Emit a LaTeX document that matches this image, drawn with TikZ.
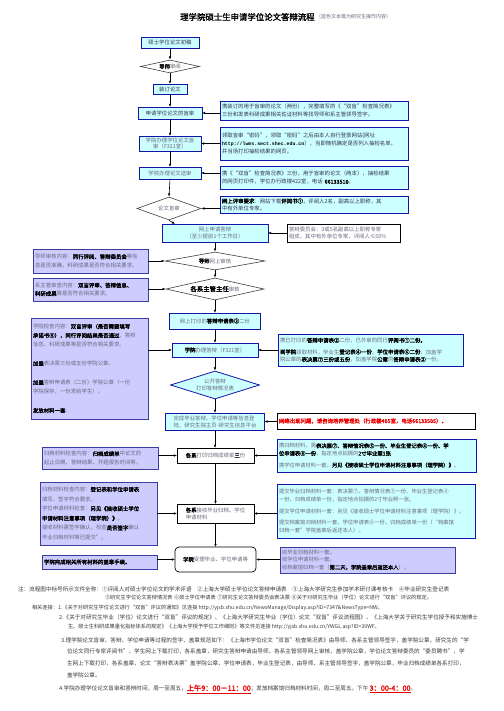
\documentclass[tikz,border=0pt]{standalone}
\usepackage{fontspec}
\setmainfont{Noto Sans CJK SC}[AutoFakeBold=2]
\newfontfamily\urlf{Liberation Mono}
\usetikzlibrary{arrows.meta,shapes.geometric,calc}
\XeTeXlinebreaklocale "zh"
\XeTeXlinebreakskip=0pt plus 1.5pt
\definecolor{cyf}{RGB}{204,255,255}
\definecolor{bln}{RGB}{20,20,170}
\definecolor{lvf}{RGB}{204,204,255}
\definecolor{lvl}{RGB}{60,60,160}
\definecolor{gt}{RGB}{105,105,125}
\definecolor{dt}{RGB}{50,50,80}
\definecolor{rd}{RGB}{235,0,0}
\newcommand\hb[1]{{\bfseries\color{black}#1}}
\newcommand\tsz{\fontsize{5.4}{8.4}\selectfont}
\newcommand\nsz{\fontsize{5.6}{7}\selectfont}
\newcommand\ssz{\fontsize{5.2}{7}\selectfont}
\newcommand\cbx[7]{%
 \pgfmathsetmacro\tmpy{(#3+#5)/2}\pgfmathsetmacro\tmph{#5-#3}%
 \node[#6, minimum width=#4pt, minimum height=\tmph pt] (#1) at (#2,\tmpy) {#7};}
\newcommand\rbx[7]{%
 \pgfmathsetmacro\tmpw{#4-#2-4}\pgfmathsetmacro\tmph{#5-#3}%
 \node[#6, anchor=north west, minimum height=\tmph pt, text width=\tmpw pt] (#1) at (#2,#3) {#7};}
\tikzset{
 x=1pt,y=-1pt,
 base/.style={inner xsep=2pt, inner ysep=1pt, outer sep=0pt, font=\tsz, align=left},
 cy/.style={base, draw=bln, fill=cyf, line width=0.8pt, text=gt},
 cyd/.style={cy, text=dt},
 mb/.style={cy, align=center, text=dt},
 lv/.style={base, draw=lvl, fill=lvf, line width=0.8pt, text=gt},
 wb/.style={base, draw=black, fill=white, line width=0.7pt, text=gt},
 dm/.style={diamond, draw=black!75, fill=white, line width=0.6pt, inner sep=0pt, font=\tsz, text=gt, align=center},
 arr/.style={-{Latex[length=3.2pt,width=2.6pt]}, line width=0.6pt, black},
 note/.style={inner sep=0pt, outer sep=0pt, anchor=west, font=\nsz, text=black!78}
}
\begin{document}
\begin{tikzpicture}
\useasboundingbox (0,0) rectangle (503,711);
\fill[white] (0,0) rectangle (503,711);

% title
\node[inner sep=0pt, anchor=west, font=\fontsize{8.4}{9}\selectfont\bfseries] (title) at (180,17) {理学院硕士生申请学位论文答辩流程};
\node[inner sep=0pt, anchor=west, font=\fontsize{5}{6}\selectfont, text=gt] (subtitle) at ([xshift=1pt]title.east) {（蓝色文本框为研究生操作内容）};

% upper column
\cbx{cg}{170}{37}{58}{48}{mb}{硕士学位论文初稿}
\node[dm, aspect=4.5, minimum width=59pt, minimum height=13pt] (dsy) at (170,66.5) {\hb{导师}审阅};
\cbx{zd}{170}{84}{34}{94}{mb}{装订论文}
\cbx{ms}{170}{107}{64}{119}{mb}{申请学位论文的盲审}
\cbx{xyb}{170}{136}{62}{151}{mb, text=gt, font=\fontsize{5.4}{6.6}\selectfont}{学院办理学位论文盲\\审（F321室）}
\cbx{xxb}{170}{167}{62}{179}{mb, text=gt}{学校办理论文送审}
\node[dm, aspect=2.6, minimum width=64pt, minimum height=23pt] (lwms) at (169,208.5) {论文盲审};

% right upper boxes
\rbx{r1}{220}{101}{408}{120}{cyd}{携装订的用于盲审的论文（两份），完整填写的《“双盲”检查简况表》\\三份和发表科研成果相关佐证材料等找导师和系主管领导签字。}
\rbx{r2}{220}{127}{408}{160}{cyd}{领取盲审“密码”，领取“密码”之后由本人自行登录网站(网址\\{\urlf\bfseries\color{black}\fontsize{4.9}{8}\selectfont http://lwms.sect.shec.edu.cn}），当即随机确定是否列入抽检名单，\\并当场打印抽检结果的网页。}
\rbx{r3}{220}{166}{408}{189}{cyd}{携《“双盲”检查简况表》三份，用于盲审的论文（两本），抽检结果\\的网页打印件，学位办行政楼422室，电话 \hb{66133510}。}
\rbx{r4}{220}{196}{408}{213}{cyd, font=\fontsize{5.4}{7}\selectfont}{\hb{网上评审要求}：网站下载\hb{评阅书①}，评阅人2名，副高以上职称，其\\中有外单位专家。}
\rbx{r5}{287}{224}{400}{242}{wb, font=\fontsize{5.4}{7.5}\selectfont}{答辩委员会：3或5名副高以上职称专家\\组成，其中有外单位专家，评阅人≤50\%}

% lower column
\cbx{ws}{215}{224}{106}{242}{mb, text=gt, font=\fontsize{5.4}{7.5}\selectfont}{网上申请答辩\\（至少提前1个工作日）}
\node[dm, aspect=5.5, minimum width=100pt, minimum height=18pt] (dsh) at (215,261) {\hb{导师}网上审核};
\node[dm, aspect=4.4, minimum width=98pt, minimum height=22pt] (xzg) at (215,289) {{\bfseries\color{black}\fontsize{6.4}{7}\selectfont 各系主管主任}审核};
\cbx{wd}{215}{313}{91}{329}{cy, align=center}{网上打印的\hb{答辩申请表②}二份}
\cbx{xdb}{215}{343}{86}{357}{cy, align=center}{\hb{学院}办理答辩（F321室）}
\node[dm, draw=bln, fill=cyf, line width=0.8pt, aspect=3.2, minimum width=89pt, minimum height=28pt, font=\fontsize{5.4}{7.5}\selectfont] (gk) at (215,385) {公开答辩\\打印答辩情况表};
\cbx{wc}{215}{413}{99}{430}{cy, font=\fontsize{5.4}{7}\selectfont}{完成毕业答辩、学位申请等信息登\\陆，研究生院主页-研究生信息平台}
\cbx{xd}{215.5}{448}{77}{463}{wb, align=center}{\hb{各系}打印归档成绩单\hb{三}份}
\cbx{xj}{215.5}{504}{77}{523}{wb, font=\fontsize{5.4}{7}\selectfont}{\hb{各系}接收毕业归档、学位\\申请材料}
\cbx{xs}{215.5}{547}{81}{572}{wb, rounded corners=4pt, align=center}{\hb{学院}受理毕业、学位申请等}

% left boxes
\rbx{l1}{33}{249}{148}{273}{lv}{导师审核内容：\hb{同行评阅、答辩委员会}等信\\息是否准确，科研成果是否符合相关要求。}
\rbx{l2}{33}{278}{148}{301}{lv}{系主管审查内容：\hb{双盲评审、答辩信息、}\\\hb{科研成果}等是否符合相关要求。}
\rbx{l3}{31}{318}{148}{419}{lv, font=\fontsize{5.4}{9}\selectfont}{学院检查内容：\hb{双盲评审（是否需要填写}\\\hb{承诺书④），同行评阅结果是否通过}、答辩\\信息、科研成果等是否符合相关要求。\\[10pt]\hb{加盖}表决票三份或五份学院公章。\\[10pt]\hb{加盖}答辩申请表（二份）学院公章（一份\\学院保存，一份发给学生）。\\[10pt]\hb{发放材料一套}。}
\rbx{l4}{42}{447}{158}{469}{lv}{归档材料检查内容：\hb{归档成绩单}中论文的\\起止日期、答辩结果、开题报告时间等。}
\rbx{l5}{40}{482}{157}{545}{lv, font=\fontsize{5.4}{9.6}\selectfont}{归档材料检查内容：\hb{登记表和学位申请表}\\填写、签字符合要求。\\学位申请材料检查：\hb{另见《接收硕士学位}\\\hb{申请材料注意事项（理学院）》}。\\接收材料需签字确认，检查\hb{是否签字}确认\\毕业归档材料等已提交”。}
\rbx{l6}{42}{555}{157}{569}{lv}{\hb{学院完成相关所有材料的盖章手续。}}

% right lower boxes
\rbx{r6}{278}{334}{463}{366}{cy, font=\fontsize{5.4}{7.6}\selectfont}{携已打印的\hb{答辩申请表②}二份，已外审的同行\hb{评阅书①二份。}\\[4pt]\hb{到学院}领取材料，毕业生\hb{登记表④一份}、\hb{学位申请表⑥二份}，加盖学\\院公章的\hb{表决票⑦三份或五份}，加盖学院\hb{公章}的\hb{答辩申请表②}一份。}
\rbx{r7}{277}{413}{475}{429}{wb, line width=1pt, text=rd}{\bfseries 网络出现问题，请咨询培养管理处（行政楼405室，电话66133505）。}
\rbx{r8}{277}{439}{476}{472}{cy, font=\fontsize{5.3}{7.6}\selectfont}{携归档材料，需\hb{表决票⑦、答辩情况表⑤一份、毕业生登记表④一份、学}\\\hb{位申请表⑥一份}，指定地点拍摄的\hb{2寸毕业照1张}\\[4pt]携学位申请材料一套，\hb{另见《接收硕士学位申请材料注意事项（理学院）》}。}
\rbx{r9}{277}{484}{475}{538}{cy, font=\fontsize{5.3}{7.6}\selectfont}{提交毕业归档材料一套：表决票⑦、答辩情况表⑤一份、毕业生登记表④\\一份、归档成绩单一份、指定地点拍摄的2寸毕业照一张。\\[4pt]提交学位申请材料一套：另见《接收硕士学位申请材料注意事项（理学院）》。\\[4pt]提交档案馆归档材料一套，学位申请表⑥一份、归档成绩单一份（“档案馆\\归档一套”学院盖章后返还本人）。}
\rbx{r10}{280}{547}{455}{573}{lv, font=\fontsize{5.3}{7.4}\selectfont}{收毕业归档材料一套。\\收学位申请材料一套。\\收档案馆归档一套（\hb{第二天，学院盖章后返还本人}）。}

% vertical flow
\draw[arr] (cg) -- (dsy);
\draw[arr] (dsy) -- (zd);
\draw[arr] (zd) -- (ms);
\draw[arr] (ms) -- (xyb);
\draw[arr] (xyb) -- (xxb);
\draw[arr] (xxb.south) -- (lwms.north);
\draw[arr] (lwms.south) -- ([xshift=13pt]ws.north west);
\draw[arr] (ws) -- (dsh);
\draw[arr] (dsh) -- (xzg);
\draw[arr] (xzg) -- (wd);
\draw[arr] (wd) -- (xdb);
\draw[arr] (xdb) -- (gk);
\draw[arr] (gk) -- (wc);
\draw[arr] (wc.south) -- (xd.north -| wc.south);
\draw[arr] (xd.south) -- (xj.north -| xd.south);
\draw[arr] (xj.south) -- (xs.north -| xj.south);

% right-to-left arrows
\draw[arr] (r1.west |- ms.east) -- (ms.east);
\draw[arr] (r2.west |- xyb.east) -- (xyb.east);
\draw[arr] (r3.west |- xxb.east) -- (xxb.east);
\draw[arr] (r4.west |- lwms.east) -- (lwms.east);
\draw[arr] (r5.west |- ws.east) -- (ws.east);
\draw[arr] (r6.west |- xdb.east) -- (xdb.east);
\draw[arr] (r7.west |- wc.east) -- (wc.east);
\draw[arr] (r8.west |- xd.east) -- (xd.east);
\draw[arr] (r9.west |- xj.east) -- (xj.east);
\draw[arr] (r10.west |- xs.east) -- (xs.east);

% left-to-right arrows
\draw[arr] (l1.east |- dsh.west) -- (dsh.west);
\draw[arr] (l2.east |- xzg.west) -- (xzg.west);
\draw[arr] (l3.east |- xdb.west) -- (xdb.west);
\draw[arr] (l4.east |- xd.west) -- (xd.west);
\draw[arr] (l5.east |- xj.west) -- (xj.west);
\draw[arr] (l6.east |- xs.west) -- (xs.west);

% notes
\node[note] (n1) at (18,589) {\makebox[470pt][s]{注：流程图中标号所示文件全称：①评阅人对硕士学位论文的学术评语\quad ②上海大学硕士学位论文答辩申请表\quad ③上海大学研究生参加学术研讨课考核卡\quad ④毕业研究生登记表}};
\node[note, font=\ssz] (n2) at (105,598) {\makebox[327pt][s]{⑤研究生学位论文答辩情况表 ⑥硕士学位申请表 ⑦研究生论文答辩委员会表决票 ⑧关于对研究生毕业（学位）论文进行“双盲”评议的规定。}};
\node[note, font=\ssz] (n3) at (32,608) {相关连接：1.《关于对研究生学位论文进行“双盲”评议的通知》见连接 http://yjsb.shu.edu.cn/NewsManage/Display.asp?ID=7347\&NewsType=NW。};
\node[note] (n4) at (59,617) {\makebox[429pt][s]{2.《关于对研究生毕业（学位）论文进行“双盲”评议的规定》、《上海大学研究生毕业（学位）论文“双盲”评议流程图》、《上海大学关于研究生学位授予和实施博士}};
\node[note, font=\ssz] (n5) at (68,627) {生、硕士生科研成果量化指标体系的规定》《上海大学授予学位工作细则》等文件见连接 http://yjsb.shu.edu.cn/YWGL.asp?ID=39WF。};
\node[note] (n6) at (61,640) {\makebox[427pt][s]{3.理学院论文盲审、答辩、学位申请等过程的签字、盖章规范如下：《上海市学位论文“双盲”检查简况表》由导师、各系主管领导签字，盖学院公章，研究生的“学}};
\node[note] (n7) at (67,651) {\makebox[421pt][s]{位论文同行专家评阅书”，学生网上下载打印，各系盖章，研究生答辩申请由导师、各系主管领导网上审核，盖学院公章，学位论文答辩委员的“委员聘书”，学}};
\node[note] (n8) at (67,663) {\makebox[421pt][s]{生网上下载打印，各系盖章，论文“答辩表决票”盖学院公章，学位申请表，毕业生登记表，由导师、系主管领导签字，盖学院公章，毕业归档成绩单各系打印，}};
\node[note] (n9) at (67,675) {盖学院公章。};
\node[note] (n10) at (59,689) {4.学院办理学位论文盲审和答辩时间，周一至周五，{\color{rd}\bfseries\fontsize{7.2}{8}\selectfont\underline{上午9：00－11：00}}；发放档案馆归档材料时间，周二至周五，下午 {\color{rd}\bfseries\fontsize{7.2}{8}\selectfont\underline{3：00-4：00}}。};
\end{tikzpicture}
\end{document}
